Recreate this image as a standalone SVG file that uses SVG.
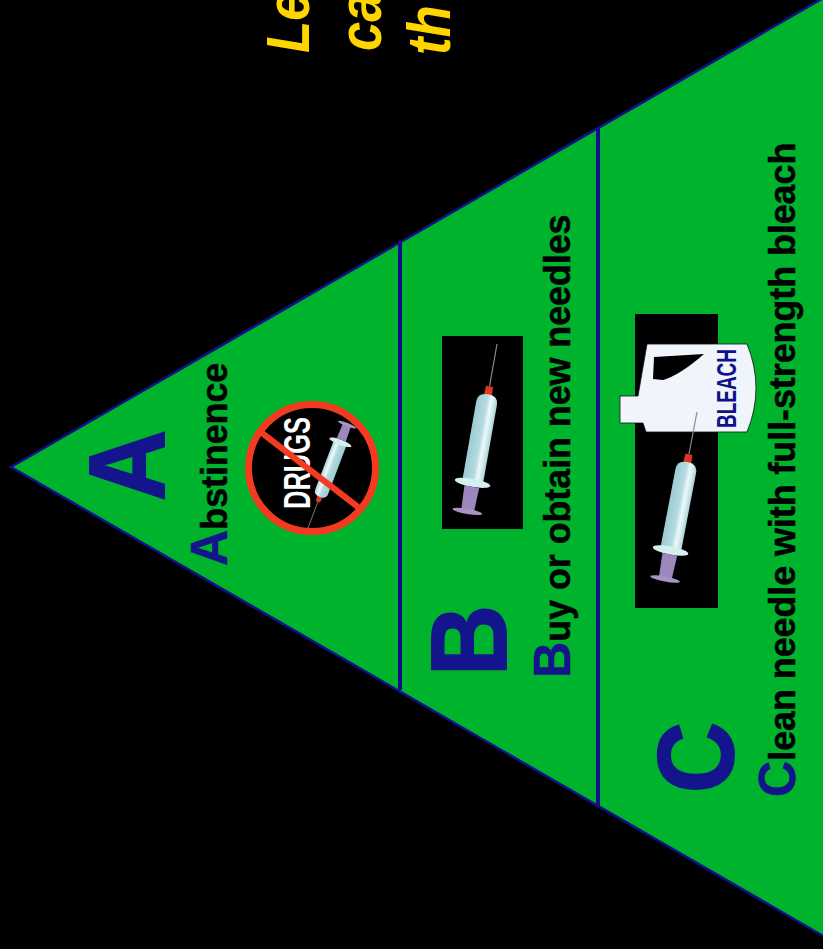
<svg xmlns="http://www.w3.org/2000/svg" xmlns:xlink="http://www.w3.org/1999/xlink" width="823" height="949" viewBox="0 0 823 949">
<style>
text{font-family:"Liberation Sans",Arial,sans-serif;font-weight:bold}
.big{fill:#14148c;stroke:#14148c;stroke-width:2;font-size:107px}
.lab{fill:#000;stroke:#000;stroke-width:.5;font-size:37px}
.ini{fill:#14148c;stroke:#14148c;font-size:52px}
.yel{fill:#ffd500;font-style:italic;font-size:62px}
.div{stroke:#10108a;stroke-width:4;fill:none}
</style>
<defs>
<linearGradient id="barrel" x1="0" x2="1" y1="0" y2="0">
<stop offset="0" stop-color="#9ccbd2"/><stop offset="0.5" stop-color="#b4dbe0"/><stop offset="0.68" stop-color="#eef8fa"/><stop offset="0.8" stop-color="#d8eef1"/><stop offset="1" stop-color="#a8d2d8"/>
</linearGradient>
<g id="syringe">
<line x1="0" y1="0" x2="0" y2="43" stroke="#8a8a8a" stroke-width="1.2"/>
<path d="M-3.5 43H3.5L4 52H-4Z" fill="#d83a20"/>
<path d="M-10.5 140V60Q-10.5 51 0 51Q10.5 51 10.5 60V140Z" fill="url(#barrel)"/>
<ellipse cx="0" cy="141" rx="18" ry="4" fill="#d5eef0"/>
<path d="M-7.5 145H7.5L6.5 169H-6.5Z" fill="#9d86bb"/>
<ellipse cx="0" cy="170" rx="15" ry="2.6" fill="#a893c4"/>
</g>
</defs>
<rect width="823" height="949" fill="#000"/>
<g id="connectors">
<path id="triangle" d="M11 467L825 -3V937Z" fill="#00b32d" stroke="#10108a" stroke-width="2.5"/>
<line class="div" x1="400" y1="242" x2="400" y2="690"/>
<line class="div" x1="598" y1="128" x2="598" y2="806"/>
</g>
<g id="heading">
<text class="yel" transform="translate(309,53) rotate(-90) scale(.85,1)">Le</text>
<text class="yel" transform="translate(381,51) rotate(-90) scale(.85,1)">ca</text>
<text class="yel" transform="translate(450,55) rotate(-90) scale(.85,1)">th</text>
</g>
<g id="node-a">
<text class="big" transform="translate(164,501) rotate(-90) scale(.92,1)">A</text>
<text class="lab" transform="translate(227,566) rotate(-90) scale(.967,1)"><tspan class="ini">A</tspan>bstinence</text>
<circle cx="312" cy="468" r="63.5" fill="#000" stroke="#f43b21" stroke-width="7"/>
<text transform="translate(310,509) rotate(-90)" fill="#fff" font-size="36" textLength="92" lengthAdjust="spacingAndGlyphs">DRUGS</text>
<use xlink:href="#syringe" href="#syringe" transform="translate(308,528) rotate(200.7) scale(.65)"/>
<line x1="262" y1="433" x2="358" y2="507" stroke="#f43b21" stroke-width="6"/>
</g>
<g id="node-b">
<text class="big" transform="translate(506,676) rotate(-90) scale(.92,1)">B</text>
<text class="lab" transform="translate(570,678) rotate(-90) scale(.967,1)"><tspan class="ini">B</tspan>uy or obtain new needles</text>
<rect x="442" y="336" width="81" height="193" fill="#000"/>
<use xlink:href="#syringe" href="#syringe" transform="translate(497,344) rotate(10)"/>
</g>
<g id="node-c">
<text class="big" transform="translate(733,793) rotate(-90) scale(.92,1)">C</text>
<text class="lab" transform="translate(795,797) rotate(-90) scale(.967,1)"><tspan class="ini">C</tspan>lean needle with full-strength bleach</text>
<rect x="635" y="314" width="83" height="294" fill="#000"/>
<path d="M620 396V423H643L646 432H747Q765 388 747 344H647L638 396Z" fill="#f0f4fb" stroke="#111" stroke-width=".8" stroke-linejoin="round"/>
<path d="M654 357L704 354Q680 375 663 380L653 379Z" fill="#000"/>
<text transform="translate(736,428) rotate(-90)" fill="#10108a" font-size="27" textLength="79" lengthAdjust="spacingAndGlyphs">BLEACH</text>
<use xlink:href="#syringe" href="#syringe" transform="translate(697,412) rotate(10.8)"/>
</g>
</svg>
